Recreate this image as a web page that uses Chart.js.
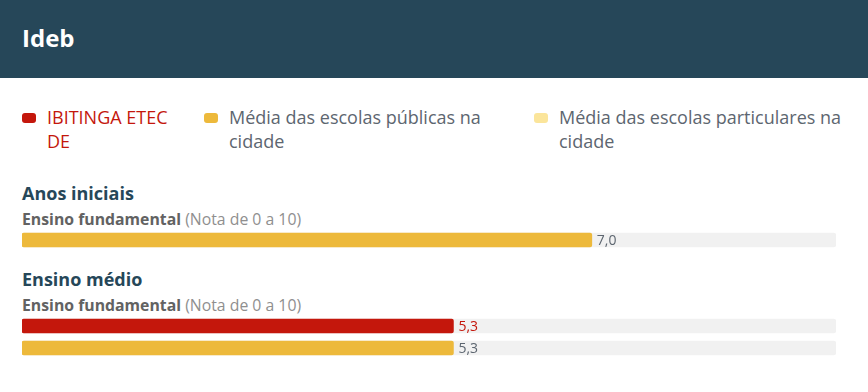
<!DOCTYPE html>
<html>
<head>
<meta charset="utf-8">
<script src="https://cdn.jsdelivr.net/npm/chart.js@4"></script>
<style>
  body { margin: 0; width: 868px; height: 392px; background: #fff; position: relative; font-family: "Open Sans", sans-serif; overflow: hidden; }
  .abs { position: absolute; white-space: nowrap; }
  #cabecalho { position: absolute; left: 0; top: 0; width: 868px; height: 78px; background: #264759; }
  #titulo { left: 22px; top: 26px; font-size: 24px; line-height: 24px; font-weight: 700; color: #fff; }
  .marca { position: absolute; top: 113px; width: 14px; height: 10px; border-radius: 3px; }
  .legtxt { position: absolute; top: 105px; font-size: 18px; line-height: 24px; color: #5d6670; white-space: normal; }
  .secao { font-size: 18px; line-height: 18px; font-weight: 700; color: #264759; }
  .sub { font-size: 15.8px; line-height: 16px; color: #8f8f8f; }
  .sub b { color: #626262; }
  canvas { position: absolute; left: 22px; }
</style>
</head>
<body>
<div id="cabecalho"></div>
<div id="titulo" class="abs">Ideb</div>
<div id="legenda"></div>

<div class="abs secao" style="left:22px;top:184px">Anos iniciais</div>
<div class="abs sub" style="left:22px;top:211px"><b>Ensino fundamental</b> (Nota de 0 a 10)</div>
<canvas id="grafica1" width="814" height="22" style="top:229px"></canvas>

<div class="abs secao" style="left:22px;top:270px">Ensino médio</div>
<div class="abs sub" style="left:22px;top:297px"><b>Ensino fundamental</b> (Nota de 0 a 10)</div>
<canvas id="grafica2" width="814" height="44" style="top:315px"></canvas>

<script>
// Dades del gràfic
const series = ['IBITINGA ETEC DE', 'Média das escolas públicas na cidade', 'Média das escolas particulares na cidade'];
const anosIniciais = [null, 7.0, null];
const ensinoMedio = [5.3, 5.3, null];
const notaMin = 0;
const notaMax = 10;

const cores = ['#c4170c', '#edb93b', '#fbe59b'];
const coresText = ['#c4170c', '#5d6670', '#5d6670'];

// Llegenda
const llegenda = document.getElementById('legenda');
const posMarca = [22, 204, 534];
const ampladaText = [140, 280, 300];
series.forEach((nom, i) => {
    const m = document.createElement('div');
    m.className = 'marca';
    m.style.left = posMarca[i] + 'px';
    m.style.background = cores[i];
    llegenda.appendChild(m);
    const t = document.createElement('div');
    t.className = 'legtxt';
    t.style.left = (posMarca[i] + 25) + 'px';
    t.style.width = ampladaText[i] + 'px';
    t.style.color = coresText[i];
    t.textContent = nom;
    llegenda.appendChild(t);
});

// Etiquetes de valor al final de cada barra
const etiquetes = {
    id: 'etiquetes',
    afterDatasetsDraw(chart) {
        const ctx = chart.ctx;
        const ds = chart.data.datasets[0];
        const meta = chart.getDatasetMeta(0);
        ctx.save();
        ctx.font = '14px "Open Sans"';
        ctx.textBaseline = 'middle';
        meta.data.forEach((bar, j) => {
            ctx.fillStyle = coresText[ds.indexos[j]];
            ctx.fillText(ds.data[j].toFixed(1).replace('.', ','), bar.x + 5, bar.y + 1);
        });
        ctx.restore();
    }
};

function crearGrafica(id, valors) {
    const idx = [];
    valors.forEach((v, i) => { if (v !== null) idx.push(i); });
    return new Chart(document.getElementById(id), {
        type: 'bar',
        data: {
            labels: idx.map(i => series[i]),
            datasets: [{
                data: idx.map(i => valors[i]),
                indexos: idx,
                backgroundColor: idx.map(i => cores[i]),
                barThickness: 14,
                borderRadius: 2,
                borderSkipped: false,
                grouped: false,
                order: 0
            }, {
                data: idx.map(() => notaMax),
                backgroundColor: '#f1f1f1',
                barThickness: 14,
                borderRadius: 3,
                borderSkipped: false,
                grouped: false,
                order: 1
            }]
        },
        options: {
            indexAxis: 'y',
            responsive: false,
            animation: false,
            layout: { padding: 0 },
            plugins: { legend: { display: false }, tooltip: { enabled: false } },
            scales: {
                x: { display: false, min: notaMin, max: notaMax },
                y: { display: false }
            }
        },
        plugins: [etiquetes]
    });
}

document.fonts.ready.then(() => {
    crearGrafica('grafica1', anosIniciais);
    crearGrafica('grafica2', ensinoMedio);
});
</script>
</body>
</html>
